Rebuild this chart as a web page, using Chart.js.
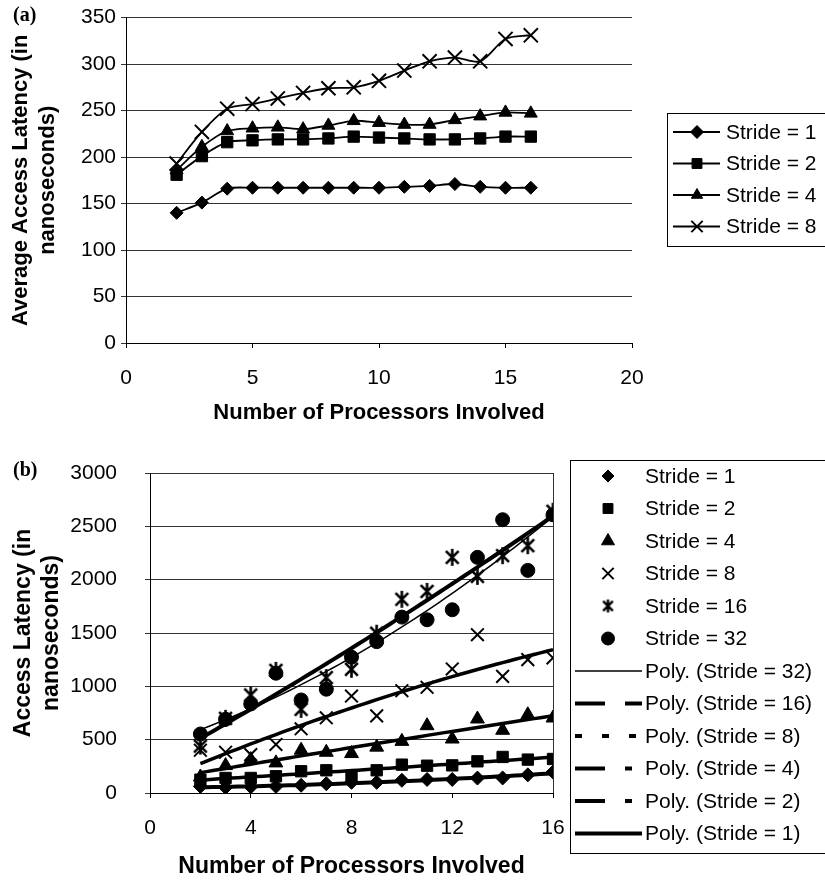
<!DOCTYPE html>
<html>
<head>
<meta charset="utf-8">
<script src="https://cdn.jsdelivr.net/npm/chart.js@4/dist/chart.umd.min.js"></script>
<style>
  html, body { margin: 0; padding: 0; background: #fff; }
  #wrapA { position: absolute; left: 0; top: 0; }
  #wrapB { position: absolute; left: 0; top: 430px; }
</style>
</head>
<body>
<div id="wrapA"><canvas id="chartA" width="825" height="430"></canvas></div>
<div id="wrapB"><canvas id="chartB" width="825" height="450"></canvas></div>
<script>
// ---- data ----
const processors = [2, 3, 4, 5, 6, 7, 8, 9, 10, 11, 12, 13, 14, 15, 16];

// (a) average access latency (ns)
const avgStride1 = [140, 151, 166, 167, 167, 167, 167, 167, 167, 168, 169, 171, 168, 167, 167];
const avgStride2 = [181, 201, 216, 218, 219, 219, 220, 222, 221, 220, 219, 219, 220, 222, 222];
const avgStride4 = [186, 211, 228, 231, 232, 230, 234, 239, 237, 235, 235, 240, 244, 248, 247];
const avgStride8 = [193, 227, 252, 257, 263, 269, 274, 275, 282, 293, 303, 307, 303, 327, 331];
const labelsA = ["Stride = 1", "Stride = 2", "Stride = 4", "Stride = 8"];
const xTicksA = [0, 5, 10, 15, 20];
const yTicksA = [0, 50, 100, 150, 200, 250, 300, 350];

// (b) access latency (ns)
const latStride1 = [62, 52, 58, 62, 72, 87, 100, 100, 119, 127, 127, 140, 141, 170, 196];
const latStride2 = [125, 141, 141, 157, 204, 213, 160, 213, 266, 256, 259, 297, 338, 313, 319];
const latStride4 = [150, 257, 313, 282, 401, 382, 370, 430, 484, 631, 506, 694, 588, 734, 703];
const latStride8 = [401, 382, 360, 455, 602, 705, 909, 723, 959, 991, 1163, 1484, 1094, 1250, 1266];
const latStride16 = [440, 700, 919, 1150, 784, 1082, 1160, 1498, 1816, 1890, 2209, 2031, 2225, 2319, 2641];
const latStride32 = [553, 691, 835, 1123, 872, 973, 1273, 1419, 1649, 1624, 1718, 2209, 2562, 2087, 2608];
const labelsB = ["Stride = 1", "Stride = 2", "Stride = 4", "Stride = 8", "Stride = 16", "Stride = 32"];
const trendLabels = ["Poly. (Stride = 32)", "Poly. (Stride = 16)", "Poly. (Stride = 8)",
                     "Poly. (Stride = 4)", "Poly. (Stride = 2)", "Poly. (Stride = 1)"];
const xTicksB = [0, 4, 8, 12, 16];
const yTicksB = [0, 500, 1000, 1500, 2000, 2500, 3000];

// ---- helpers ----
const SANS = 'Arial, "Liberation Sans", Helvetica, sans-serif';
Chart.defaults.font.family = SANS;
Chart.defaults.color = "#000";

function asterisk(size, lw) {
  const c = document.createElement("canvas");
  c.width = c.height = size;
  const g = c.getContext("2d");
  const m = size / 2, r = size / 2 - 1, d = r * 0.75;
  g.strokeStyle = "#000";
  g.lineWidth = lw;
  g.beginPath();
  g.moveTo(m, m - r); g.lineTo(m, m + r);
  g.moveTo(m - d, m - d); g.lineTo(m + d, m + d);
  g.moveTo(m + d, m - d); g.lineTo(m - d, m + d);
  g.stroke();
  return c;
}

// least squares quadratic, like Excel's "Poly." order 2 trendline
function quadFit(xs, ys) {
  const s = [0, 0, 0, 0, 0], t = [0, 0, 0];
  xs.forEach((x, i) => {
    for (let k = 0; k < 5; k++) s[k] += Math.pow(x, k);
    for (let k = 0; k < 3; k++) t[k] += ys[i] * Math.pow(x, k);
  });
  const A = [[s[0], s[1], s[2], t[0]], [s[1], s[2], s[3], t[1]], [s[2], s[3], s[4], t[2]]];
  for (let i = 0; i < 3; i++) {
    for (let j = i + 1; j < 3; j++) {
      const f = A[j][i] / A[i][i];
      for (let k = i; k < 4; k++) A[j][k] -= f * A[i][k];
    }
  }
  const c = [0, 0, 0];
  for (let i = 2; i >= 0; i--) {
    let v = A[i][3];
    for (let k = i + 1; k < 3; k++) v -= A[i][k] * c[k];
    c[i] = v / A[i][i];
  }
  return x => c[0] + c[1] * x + c[2] * x * x;
}

function panelLabel(text) {
  return {
    id: "panelLabel",
    afterDraw(chart) {
      const ctx = chart.ctx;
      ctx.save();
      ctx.font = 'bold 20px "Liberation Serif", "Times New Roman", serif';
      ctx.fillStyle = "#000";
      ctx.textBaseline = "middle";
      ctx.fillText(text, 13, chart.chartArea.top - 2);
      ctx.restore();
    }
  };
}

// boxed legend drawn like the Excel one
function boxLegend(box, rows) {
  return {
    id: "boxLegend",
    afterDraw(chart) {
      const ctx = chart.ctx;
      ctx.save();
      ctx.strokeStyle = "#000";
      ctx.lineWidth = 1;
      ctx.strokeRect(box.x + 0.5, box.y + 0.5, box.w, box.h);
      rows.forEach((row, i) => {
        const y = box.first + i * box.step;
        if (row.line) {
          ctx.beginPath();
          ctx.lineWidth = row.line.width;
          ctx.setLineDash(row.line.dash || []);
          ctx.moveTo(box.lineX0, y);
          ctx.lineTo(box.lineX1, y);
          ctx.stroke();
          ctx.setLineDash([]);
        }
        if (row.marker) {
          ctx.fillStyle = "#000";
          ctx.strokeStyle = "#000";
          ctx.lineWidth = row.marker.width;
          Chart.helpers.drawPoint(ctx, {
            pointStyle: row.marker.style, radius: row.marker.radius,
            borderWidth: row.marker.width, rotation: 0
          }, box.markerX, y);
        }
        ctx.fillStyle = "#000";
        ctx.font = "21px " + SANS;
        ctx.textBaseline = "middle";
        ctx.fillText(row.label, box.textX, y + 1);
      });
      ctx.restore();
    }
  };
}

const plotFrame = {
  id: "plotFrame",
  beforeDatasetsDraw(chart) {
    const {ctx, chartArea} = chart;
    ctx.save();
    ctx.strokeStyle = "#333";
    ctx.lineWidth = 1;
    ctx.beginPath();
    ctx.moveTo(chartArea.right + 0.5, chartArea.top);
    ctx.lineTo(chartArea.right + 0.5, chartArea.bottom);
    ctx.stroke();
    ctx.restore();
  }
};

function axisStyle(ticks, titleText, titleSize, titlePad, tickPad, isX) {
  return {
    type: "linear",
    min: ticks[0],
    max: ticks[ticks.length - 1],
    ticks: { stepSize: ticks[1] - ticks[0], font: { size: 21 }, padding: tickPad, color: "#000",
             callback: v => String(v) },
    grid: isX
      ? { drawOnChartArea: false, tickLength: 5, color: "#000" }
      : { tickLength: 5, color: "#333" },
    border: { color: "#000" },
    title: { display: true, text: titleText, color: "#000",
             font: { size: titleSize, weight: "bold" }, padding: titlePad }
  };
}

// ---- (a) ----
const seriesA = [avgStride1, avgStride2, avgStride4, avgStride8];
const markerA = ["rectRot", "rect", "triangle", "crossRot"];
const radiusA = [6.5, 8, 7.5, 10];

const xA = axisStyle(xTicksA, "Number of Processors Involved", 22, { top: 0, bottom: 4 }, 18, true);
xA.afterFit = s => { s.height = 87; };
const yA = axisStyle(yTicksA, ["Average Access Latency (in", "nanoseconds)"], 22, { top: 8 }, 5, false);
yA.afterFit = s => { s.width = 126; };

new Chart(document.getElementById("chartA"), {
  type: "line",
  data: {
    datasets: seriesA.map((vals, i) => ({
      label: labelsA[i],
      data: processors.map((p, j) => ({ x: p, y: vals[j] })),
      borderColor: "#000",
      borderWidth: 1.8,
      tension: 0.3,
      pointStyle: markerA[i],
      pointRadius: radiusA[i],
      pointBackgroundColor: "#000",
      pointBorderColor: "#000",
      pointBorderWidth: i === 3 ? 2 : 1
    }))
  },
  options: {
    responsive: false,
    animation: false,
    layout: { padding: { top: 17, left: 0, right: 193, bottom: 0 } },
    plugins: { legend: { display: false }, tooltip: { enabled: false } },
    scales: { x: xA, y: yA }
  },
  plugins: [
    panelLabel("(a)"),
    boxLegend({ x: 667, y: 113, w: 200, h: 133, first: 132, step: 31.5,
                lineX0: 673, lineX1: 720, markerX: 697, textX: 726 },
      labelsA.map((label, i) => ({
        label,
        line: { width: 2 },
        marker: { style: markerA[i], radius: i === 1 ? 7 : (i === 3 ? 8 : 6.5), width: i === 3 ? 2 : 1 }
      })))
  ]
});

// ---- (b) ----
const seriesB = [latStride1, latStride2, latStride4, latStride8, latStride16, latStride32];
const markerB = ["rectRot", "rect", "triangle", "crossRot", asterisk(19, 2.6), "circle"];
const radiusB = [7, 8, 8, 9, 9, 7];
const legendMarkerB = ["rectRot", "rect", "triangle", "crossRot", asterisk(15, 2.4), "circle"];
const legendRadiusB = [6, 7, 7.5, 8, 7, 6.5];

// trend styles in legend order: 32, 16, 8, 4, 2, 1
const trendSeries = [latStride32, latStride16, latStride8, latStride4, latStride2, latStride1];
const trendWidth = [1.5, 4, 3.5, 3.5, 3.5, 4];
const legendDash = [[], [30, 20], [7, 20], [30, 20, 7, 20], [30, 20, 7, 20], []];

const trendX = [];
for (let x = processors[0]; x <= processors[processors.length - 1]; x += 0.25) trendX.push(x);

const scatterSets = seriesB.map((vals, i) => ({
  label: labelsB[i],
  data: processors.map((p, j) => ({ x: p, y: vals[j] })),
  showLine: false,
  pointStyle: markerB[i],
  pointRadius: radiusB[i],
  pointBackgroundColor: "#000",
  pointBorderColor: "#000",
  pointBorderWidth: i === 3 ? 2 : 1
}));

const trendSets = trendSeries.map((vals, i) => {
  const f = quadFit(processors, vals);
  return {
    label: trendLabels[i],
    data: trendX.map(x => ({ x, y: f(x) })),
    showLine: true,
    pointRadius: 0,
    borderColor: "#000",
    borderWidth: trendWidth[i],
    tension: 0
  };
});

const xB = axisStyle(xTicksB, "Number of Processors Involved", 23, { top: 0, bottom: 0 }, 18, true);
xB.afterFit = s => { s.height = 87; };
const yB = axisStyle(yTicksB, ["Access Latency (in", "nanoseconds)"], 23, { top: 10 }, 28, false);
yB.afterFit = s => { s.width = 150; };

const legendRowsB = labelsB.map((label, i) => ({
  label,
  marker: { style: legendMarkerB[i], radius: legendRadiusB[i], width: i === 3 ? 2 : 1 }
})).concat(trendLabels.map((label, i) => ({
  label,
  line: { width: i === 0 ? 1.5 : 4, dash: legendDash[i] }
})));

new Chart(document.getElementById("chartB"), {
  type: "scatter",
  data: { datasets: scatterSets.concat(trendSets) },
  options: {
    responsive: false,
    animation: false,
    layout: { padding: { top: 43, left: 0, right: 272, bottom: 0 } },
    plugins: { legend: { display: false }, tooltip: { enabled: false } },
    scales: { x: xB, y: yB }
  },
  plugins: [
    plotFrame,
    panelLabel("(b)"),
    boxLegend({ x: 570, y: 30, w: 300, h: 393, first: 46, step: 32.5,
                lineX0: 575, lineX1: 642, markerX: 608, textX: 645 }, legendRowsB)
  ]
});
</script>
</body>
</html>
